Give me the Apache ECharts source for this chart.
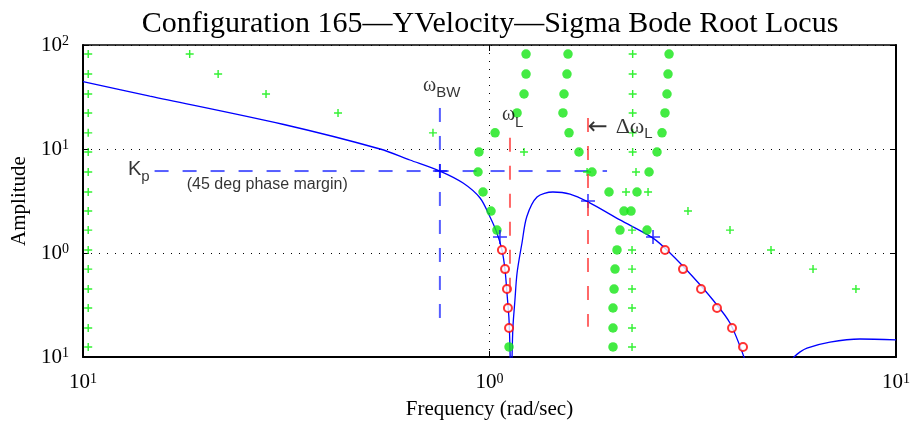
<!DOCTYPE html>
<html><head><meta charset="utf-8">
<script src="https://cdn.jsdelivr.net/npm/echarts@6/dist/echarts.min.js"></script>
<style>html,body{margin:0;padding:0;background:#fff}#c{width:913px;height:425px}</style>
</head><body><div id="c"></div>
<script>
// ---- text ----
const titleText = 'Configuration 165\u2014YVelocity\u2014Sigma Bode Root Locus';
const xAxisName = 'Frequency (rad/sec)';
const yAxisName = 'Amplitude';
// tick values and the exponent text shown next to "10"
const xTickValues = [0.1, 1, 10];
const xTickExps = ['1', '0', '1'];
const yTickValues = [0.1, 1, 10, 100];
const yTickExps = ['1', '0', '1', '2'];

// ---- Bode magnitude curve [freq, amplitude], '-' breaks the line ----
const curveData = [
  [0.1, 44.4], [0.146, 32.3], [0.31, 17.3], [0.538, 10.0], [0.637, 7.84], [0.755, 6.14],
  [0.861, 4.71], [0.948, 3.38], [1.003, 2.22], [1.043, 1.56], [1.073, 1.07], [1.092, 0.687],
  [1.104, 0.412], [1.117, 0.227], [1.125, 0.09],
  '-',
  [1.136, 0.096], [1.142, 0.194], [1.155, 0.353], [1.169, 0.642], [1.202, 1.248], [1.235, 2.23],
  [1.309, 3.45], [1.432, 3.86], [1.578, 3.69], [1.747, 3.10], [2.094, 2.08], [2.525, 1.39],
  [2.78, 1.0], [3.168, 0.588], [3.546, 0.353], [3.905, 0.212], [4.25, 0.094],
  '-',
  [5.58, 0.098], [5.81, 0.112], [6.04, 0.122], [6.88, 0.139], [8.15, 0.149], [10, 0.146]
];

// ---- root-locus markers [freq, gain] ----
const greenPlus = [
  [0.103, 81.9], [0.103, 52.6], [0.103, 33.8], [0.103, 22.2], [0.103, 14.3], [0.103, 9.36],
  [0.103, 6.01], [0.103, 3.86], [0.103, 2.53], [0.103, 1.66], [0.103, 1.07], [0.103, 0.70],
  [0.103, 0.45], [0.103, 0.296], [0.103, 0.19], [0.103, 0.125],
  [0.183, 81.9], [0.215, 52.6], [0.282, 33.8], [0.424, 22.2], [0.726, 14.3], [1.216, 9.36],
  [1.738, 6.01], [2.167, 3.86], [3.078, 2.53], [3.905, 1.66], [4.926, 1.07], [6.25, 0.70], [7.97, 0.45],
  [2.25, 81.9], [2.25, 52.6], [2.25, 33.8], [2.25, 22.2], [2.25, 14.3], [2.25, 9.36],
  [2.293, 6.01], [2.455, 3.86], [2.242, 1.66], [2.242, 1.07], [2.242, 0.70], [2.242, 0.45],
  [2.242, 0.296], [2.242, 0.19], [2.242, 0.125]
];
const greenDots = [
  [1.23, 81.9], [1.23, 52.6], [1.216, 33.8], [1.169, 22.2], [1.032, 14.3], [0.942, 9.36],
  [0.937, 6.01], [0.964, 3.86], [1.0085, 2.53], [1.043, 1.66], [1.117, 0.125],
  [1.56, 81.9], [1.551, 52.6], [1.525, 33.8], [1.516, 22.2], [1.569, 14.3], [1.66, 9.36],
  [1.787, 6.01], [1.968, 3.86], [2.142, 2.53], [2.094, 1.66], [2.059, 1.07], [2.036, 0.70],
  [2.025, 0.45], [2.013, 0.296], [2.013, 0.19], [2.013, 0.125],
  [2.765, 81.9], [2.749, 52.6], [2.733, 33.8], [2.702, 22.2], [2.657, 14.3], [2.583, 9.36],
  [2.469, 6.01], [2.306, 3.86], [2.229, 2.53], [2.441, 1.66]
];
const redCircles = [
  [1.073, 1.07], [1.092, 0.70], [1.104, 0.45], [1.110, 0.296], [1.117, 0.19],
  [2.702, 1.07], [2.992, 0.70], [3.314, 0.45], [3.628, 0.296], [3.95, 0.19], [4.204, 0.125]
];
const blueCrosses = [[0.755, 6.14], [1.061, 1.425], [1.747, 3.16], [2.525, 1.425]];

// ---- reference lines ----
const kpLine = [[0.150, 6.14], [1.946, 6.14]];
const bwLine = [[0.755, 24.8], [0.755, 0.199]];
const wlLine = [[1.123, 12.8], [1.123, 0.377]];
const dwlLine = [[1.747, 19.9], [1.747, 0.195]];

// ---- annotations (anchor = left / middle of text) ----
const annoFreq = [0.129, 0.180, 0.686, 1.073, 1.745];
const annoAmp = [6.4, 4.55, 41.0, 21.5, 16.4];
const annoText = ['{k|K}{sub|p}', '{s|(45 deg phase margin)}', '{w|\u03c9}{sub|BW}', '{w|\u03c9}{sub|L}', '{a|\u2190}{sp|  }{w2|\u0394\u03c9}{sub|L}'];

const SERIF = '"Liberation Serif", "DejaVu Serif", serif';
const SANS = '"Liberation Sans", Arial, sans-serif';

function tickFmt(values, exps) {
  return function (v) {
    const i = values.findIndex(t => Math.abs(Math.log10(t) - Math.log10(v)) < 1e-6);
    return i < 0 ? '' : '{b|10}{s|' + exps[i] + '}';
  };
}
const tickRich = {
  b: { fontFamily: SERIF, fontSize: 21, lineHeight: 21, color: '#000', verticalAlign: 'bottom' },
  s: { fontFamily: SERIF, fontSize: 14, lineHeight: 14, color: '#000', verticalAlign: 'top' }
};

const plusPath = 'path://M0,4.1H10V5.9H0Z M4.1,0H5.9V10H4.1Z';
const crossPath = 'path://M0,4.45H10V5.55H0Z M4.45,0H5.55V10H4.45Z';

const chart = echarts.init(document.getElementById('c'), null, { renderer: 'canvas' });
const baseAxis = {
  type: 'log', logBase: 10,
  axisTick: { show: true, inside: true, length: 6, lineStyle: { color: '#000', width: 1 } },
  minorTick: { show: false },
  axisLine: { show: true, lineStyle: { color: '#000', width: 2 } }
};
chart.setOption({
  animation: false,
  backgroundColor: '#fff',
  title: {
    text: titleText, left: 485, top: 4, textAlign: 'center',
    textStyle: { fontFamily: SERIF, fontSize: 30, fontWeight: 'normal', color: '#000' }
  },
  grid: { left: 83, right: 17, top: 45, bottom: 68, containLabel: false },
  xAxis: [
    Object.assign({}, baseAxis, {
      min: 0.1, max: 10, position: 'bottom',
      name: xAxisName, nameLocation: 'middle', nameGap: 42,
      nameTextStyle: { fontFamily: SERIF, fontSize: 21, color: '#000' },
      axisLabel: { margin: 15, formatter: tickFmt(xTickValues, xTickExps), rich: tickRich },
      splitLine: { show: true, lineStyle: { color: '#000', width: 1, type: [1, 7] } }
    }),
    Object.assign({}, baseAxis, {
      min: 0.1, max: 10, position: 'top',
      axisLine: { show: true, lineStyle: { color: '#000', width: 1.5 } },
      axisLabel: { show: false }, splitLine: { show: false }
    })
  ],
  yAxis: [
    Object.assign({}, baseAxis, {
      min: 0.1, max: 100, position: 'left',
      name: yAxisName, nameLocation: 'middle', nameGap: 52, nameRotate: 90,
      nameTextStyle: { fontFamily: SERIF, fontSize: 21, color: '#000' },
      axisLabel: { margin: 14, formatter: tickFmt(yTickValues, yTickExps), rich: tickRich },
      splitLine: { show: true, lineStyle: { color: '#000', width: 1, type: [1, 7] } }
    }),
    Object.assign({}, baseAxis, {
      min: 0.1, max: 100, position: 'right',
      axisLine: { show: true, lineStyle: { color: '#000', width: 2 } },
      axisLabel: { show: false }, splitLine: { show: false }
    })
  ],
  series: [
    { type: 'line', data: kpLine, showSymbol: false, symbol: 'none', silent: true, z: 2,
      lineStyle: { color: 'rgba(30,40,255,0.75)', width: 2, type: [14, 14] } },
    { type: 'line', data: bwLine, showSymbol: false, symbol: 'none', silent: true, z: 2,
      lineStyle: { color: 'rgba(30,40,255,0.75)', width: 2, type: [14, 14] } },
    { type: 'line', data: curveData, showSymbol: false, symbol: 'none', connectNulls: false, clip: true, z: 3,
      smooth: 0.3,
      lineStyle: { color: '#0000ff', width: 1.3 } },
    { type: 'scatter', data: greenPlus, symbol: plusPath, symbolSize: 8, z: 4,
      itemStyle: { color: '#00ee00' } },
    { type: 'scatter', data: greenDots, symbol: 'circle', symbolSize: 9.5, z: 5,
      itemStyle: { color: '#14e614' } },
    { type: 'scatter', data: redCircles, symbol: 'emptyCircle', symbolSize: 8, z: 6,
      itemStyle: { color: '#ff0000', borderColor: '#ff0000', borderWidth: 1.5 } },
    { type: 'scatter', data: blueCrosses, symbol: crossPath, symbolSize: 14, z: 6,
      itemStyle: { color: '#0000ff' } },
    { type: 'line', data: wlLine, showSymbol: false, symbol: 'none', silent: true, z: 7,
      lineStyle: { color: 'rgba(255,40,40,0.7)', width: 2, type: [14, 14] } },
    { type: 'line', data: dwlLine, showSymbol: false, symbol: 'none', silent: true, z: 7,
      lineStyle: { color: 'rgba(255,40,40,0.7)', width: 2, type: [14, 14] } },
    { type: 'scatter', symbolSize: 0, z: 8, silent: true,
      data: annoFreq.map((f, i) => [f, annoAmp[i]]),
      label: {
        show: true, position: 'right', distance: 0, color: '#000',
        formatter: p => annoText[p.dataIndex],
        rich: {
          k: { fontFamily: SANS, fontSize: 20, lineHeight: 20, verticalAlign: 'top', color: '#000' },
          w: { fontFamily: SERIF, fontSize: 20, lineHeight: 19, verticalAlign: 'top', color: '#000' },
          w2: { fontFamily: SERIF, fontSize: 22, lineHeight: 21, verticalAlign: 'top', color: '#000' },
          a: { fontFamily: '"DejaVu Sans", sans-serif', fontSize: 24, lineHeight: 21, verticalAlign: 'top', color: '#000' },
          sp: { fontSize: 14, lineHeight: 19, verticalAlign: 'top' },
          sub: { fontFamily: SANS, fontSize: 15, lineHeight: 15, padding: [10, 0, 0, 0], verticalAlign: 'top', color: '#000' },
          s: { fontFamily: SANS, fontSize: 16, lineHeight: 18, color: '#000' }
        }
      }
    }
  ]
});
</script></body></html>
